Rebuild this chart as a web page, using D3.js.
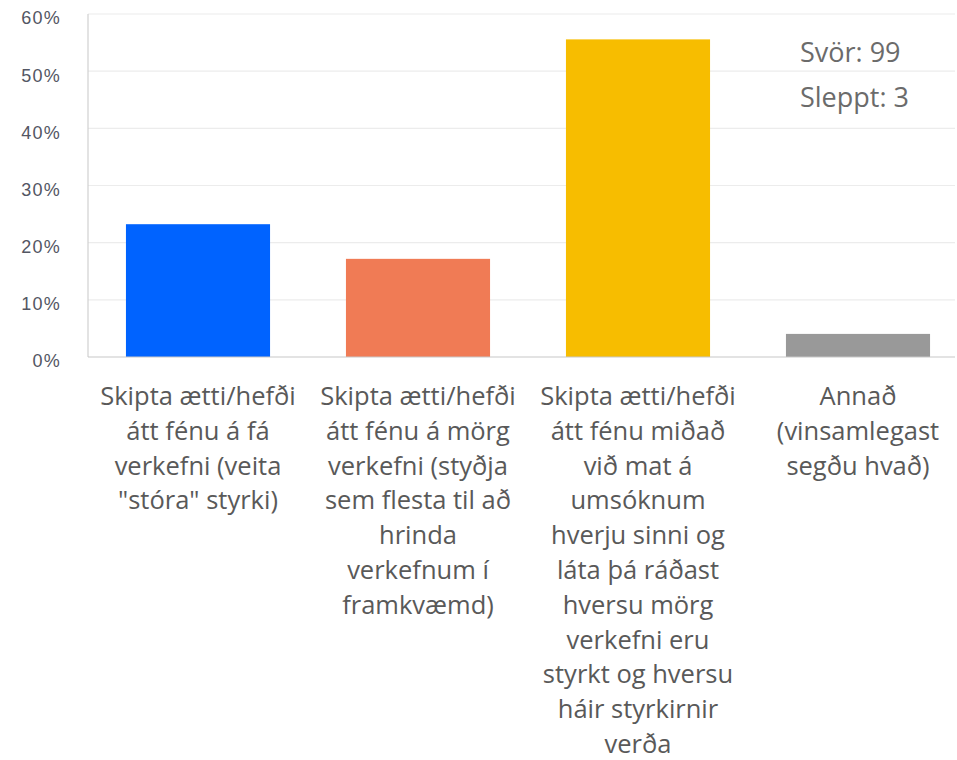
<!DOCTYPE html>
<html>
<head>
<meta charset="utf-8">
<script src="https://d3js.org/d3.v7.min.js"></script>
<style>
  body { margin: 0; background: #fff; font-family: "Open Sans", sans-serif; }
</style>
</head>
<body>
<svg id="chart" width="957" height="760"></svg>
<script>
// survey answers (share of 99 responses)
var categories = [
  ["Skipta ætti/hefði", "átt fénu á fá", "verkefni (veita", "\"stóra\" styrki)"],
  ["Skipta ætti/hefði", "átt fénu á mörg", "verkefni (styðja", "sem flesta til að", "hrinda", "verkefnum í", "framkvæmd)"],
  ["Skipta ætti/hefði", "átt fénu miðað", "við mat á", "umsóknum", "hverju sinni og", "láta þá ráðast", "hversu mörg", "verkefni eru", "styrkt og hversu", "háir styrkirnir", "verða"],
  ["Annað", "(vinsamlegast", "segðu hvað)"]
];
var values = [23.23, 17.17, 55.56, 4.04];
var colors = ["#0063ff", "#f07b55", "#f7bd00", "#999999"];
var yTicks = [0, 10, 20, 30, 40, 50, 60];
var notes = ["Svör: 99", "Sleppt: 3"];

var svg = d3.select("#chart");
var mLeft = 88, mBottom = 357, mTop = 14, mRight = 955;

var x = d3.scaleBand()
  .domain(d3.range(categories.length))
  .range([mLeft, mLeft + 4 * 220])
  .paddingInner(0.345)
  .paddingOuter(0.1725);
var y = d3.scaleLinear().domain([0, 60]).range([mBottom, mTop]);

// grid lines
svg.append("g").selectAll("line")
  .data(yTicks.slice(1))
  .enter().append("line")
  .attr("x1", mLeft).attr("x2", mRight)
  .attr("y1", function(d) { return y(d); })
  .attr("y2", function(d) { return y(d); })
  .attr("stroke", "#ececec")
  .attr("stroke-width", 1.2);

// y axis labels
var yAxis = d3.axisLeft(y).tickValues(yTicks).tickSize(0).tickPadding(27)
  .tickFormat(function(d) { return d + "%"; });
var ya = svg.append("g").attr("transform", "translate(" + mLeft + ",0)").call(yAxis);
ya.select(".domain").remove();
ya.selectAll("text")
  .attr("fill", "#535663")
  .attr("dy", "0.55em")
  .style("font-family", "'Liberation Sans', Arial, sans-serif")
  .style("font-size", "18px")
  .style("letter-spacing", "1.2px");

// bars
svg.append("g").selectAll("rect")
  .data(values)
  .enter().append("rect")
  .attr("x", function(d, i) { return x(i); })
  .attr("y", function(d) { return y(d); })
  .attr("width", x.bandwidth())
  .attr("height", function(d) { return mBottom - y(d); })
  .attr("fill", function(d, i) { return colors[i]; });

// axes lines
svg.append("line").attr("x1", mLeft).attr("x2", mLeft).attr("y1", mTop).attr("y2", mBottom)
  .attr("stroke", "#d0d0d0").attr("stroke-width", 1.2);
svg.append("line").attr("x1", mLeft).attr("x2", mRight).attr("y1", mBottom).attr("y2", mBottom)
  .attr("stroke", "#c8c8c8").attr("stroke-width", 1.2);

// category labels
var lab = svg.append("g").selectAll("text")
  .data(categories)
  .enter().append("text")
  .attr("text-anchor", "middle")
  .attr("fill", "#595959")
  .style("font-size", "25.5px");
lab.each(function(lines, i) {
  d3.select(this).selectAll("tspan")
    .data(lines)
    .enter().append("tspan")
    .attr("x", x(i) + x.bandwidth() / 2)
    .attr("y", function(d, j) { return 405 + j * 34.8; })
    .text(function(d) { return d; });
});

// response counts
svg.append("g").selectAll("text")
  .data(notes)
  .enter().append("text")
  .attr("x", 800)
  .attr("y", function(d, i) { return 62 + i * 45; })
  .attr("fill", "#6b6b6b")
  .style("font-size", "27px")
  .text(function(d) { return d; });
</script>
</body>
</html>
